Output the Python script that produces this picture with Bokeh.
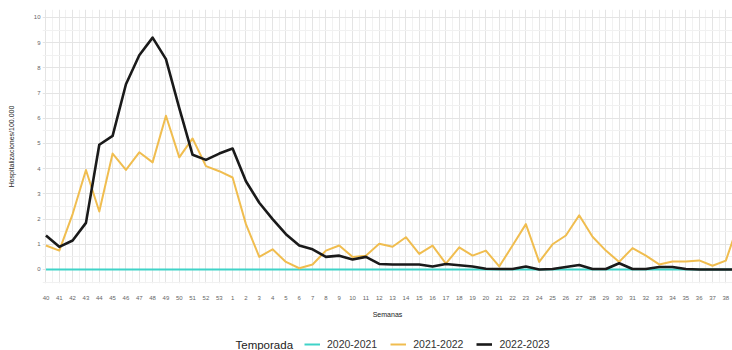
from bokeh.plotting import figure
from bokeh.layouts import column
from bokeh.models import FixedTicker, Legend, LegendItem, ColumnDataSource, Label
from bokeh.embed import file_html
from bokeh.resources import INLINE

weeks = ["40", "41", "42", "43", "44", "45", "46", "47", "48", "49", "50", "51", "52", "53",
         "1", "2", "3", "4", "5", "6", "7", "8", "9", "10", "11", "12", "13", "14", "15",
         "16", "17", "18", "19", "20", "21", "22", "23", "24", "25", "26", "27", "28", "29",
         "30", "31", "32", "33", "34", "35", "36", "37", "38", "39"]

s2020_2021 = [0.0] * 53

s2021_2022 = [0.95, 0.75, 2.2, 3.95, 2.3, 4.6, 3.95, 4.65, 4.25, 6.1, 4.45, 5.2, 4.1, 3.9,
              3.65, 1.8, 0.5, 0.8, 0.3, 0.05, 0.2, 0.75, 0.95, 0.5, 0.55, 1.02, 0.9, 1.28, 0.62,
              0.95, 0.23, 0.88, 0.55, 0.75, 0.12, 0.95, 1.8, 0.3, 1.0, 1.35, 2.15, 1.3, 0.75,
              0.3, 0.85, 0.55, 0.2, 0.32, 0.32, 0.36, 0.15, 0.35, 1.9]

s2022_2023 = [1.35, 0.9, 1.15, 1.85, 4.95, 5.3, 7.35, 8.5, 9.2, 8.35, 6.4, 4.55, 4.35, 4.6,
              4.8, 3.5, 2.65, 2.0, 1.4, 0.95, 0.8, 0.5, 0.55, 0.4, 0.5, 0.22, 0.2, 0.2, 0.2,
              0.12, 0.22, 0.17, 0.12, 0.03, 0.02, 0.02, 0.12, 0.0, 0.02, 0.1, 0.18, 0.02, 0.02,
              0.25, 0.02, 0.02, 0.1, 0.1, 0.02, 0.0, 0.0, 0.0, 0.0]

seasons = ["2020-2021", "2021-2022", "2022-2023"]
legend_title = "Temporada"
colors = ["#3FD3C8", "#F0BD4F", "#1A1A1A"]
widths = [2, 2, 2.6]

idx = list(range(len(weeks)))
src = ColumnDataSource(dict(x=idx, a=s2020_2021, b=s2021_2022, c=s2022_2023))

FONT = "Liberation Sans"

p = figure(width=732, height=320, output_backend="svg", toolbar_location=None,
           x_range=(-0.26, 51.5), y_range=(-0.556, 10.317),
           min_border_left=42, min_border_right=0, min_border_top=9, min_border_bottom=37)
p.outline_line_color = None
p.background_fill_color = "white"

p.xaxis.ticker = FixedTicker(ticks=idx, minor_ticks=[i + 0.5 for i in idx])
p.yaxis.ticker = FixedTicker(ticks=list(range(0, 11)), minor_ticks=[v + 0.5 for v in range(-1, 11)])
p.xaxis.major_label_overrides = {i: w for i, w in enumerate(weeks)}
for g in (p.xgrid, p.ygrid):
    g.grid_line_color = "#E4E4E4"
    g.grid_line_width = 1
    g.minor_grid_line_color = "#F1F1F1"
    g.minor_grid_line_width = 1

for ax in (p.xaxis, p.yaxis):
    ax.axis_line_color = None
    ax.major_tick_line_color = None
    ax.minor_tick_line_color = None
    ax.major_tick_out = 0
    ax.minor_tick_out = 0
    ax.major_label_text_font = FONT
    ax.major_label_text_font_size = "6px"
    ax.major_label_text_color = "#666666"
    ax.axis_label_text_font = FONT
    ax.axis_label_text_font_size = "7px"
    ax.axis_label_text_font_style = "normal"
    ax.axis_label_text_color = "#222222"

p.xaxis.major_label_standoff = 12
p.xaxis.axis_label = "Semanas"
p.xaxis.axis_label_standoff = 8
p.yaxis.major_label_standoff = 2
p.yaxis.axis_label = "Hospitalizaciones/100.000"
p.yaxis.axis_label_standoff = 16

cols = ["a", "b", "c"]
for c, col, w in zip(cols, colors, widths):
    p.line("x", c, source=src, line_color=col, line_width=w, line_join="round")

# legend holder figure below the chart (its frame is aligned with the chart's frame)
lg = figure(width=732, height=30, output_backend="svg", toolbar_location=None,
            x_range=(0, 690), y_range=(0, 30),
            x_axis_location=None, y_axis_location=None,
            min_border_left=42, min_border_right=0, min_border_top=0, min_border_bottom=0)
lg.grid.visible = False
lg.outline_line_color = None
items = []
for s, col, w in zip(seasons, colors, widths):
    r = lg.line(x=[-50, -40], y=[-50, -40], line_color=col, line_width=w)
    items.append(LegendItem(label=s, renderers=[r]))

legend = Legend(items=items, location=(262, 0), orientation="horizontal")
legend.label_text_font = FONT
legend.label_text_font_size = "10.5px"
legend.label_text_color = "#333333"
legend.glyph_width = 16
legend.glyph_height = 10
legend.label_standoff = 7
legend.spacing = 13
legend.padding = 0
legend.margin = 0
legend.border_line_color = None
legend.background_fill_alpha = 0
lg.add_layout(legend, "center")

lg.add_layout(Label(x=193, y=6, text=legend_title, text_font=FONT, text_font_size="11.5px",
                    text_color="#222222", text_baseline="middle", text_align="left"))

layout = column(p, lg, spacing=0)
open("out.html", "w").write(file_html(layout, INLINE))
